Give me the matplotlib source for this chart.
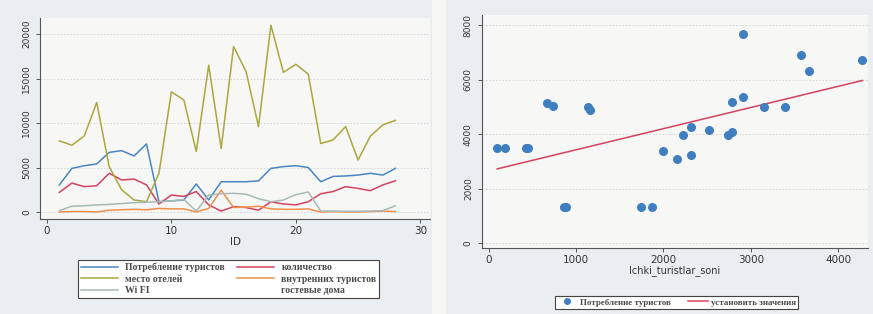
import matplotlib.pyplot as plt
from matplotlib.lines import Line2D
from matplotlib.patches import Rectangle
import numpy as np

# left chart: series by ID
ids = np.arange(1, 29)
consumption = [3050, 4900, 5200, 5400, 6700, 6900, 6300, 7650, 1150, 1250, 1350, 3150, 1350, 3400,
               3400, 3400, 3500, 4900, 5100, 5200, 5000, 3400, 4000, 4050, 4150, 4350, 4150, 4900]
domestic = [2200, 3250, 2850, 2950, 4350, 3600, 3700, 3050, 900, 1900, 1750, 2300, 800, 100,
            600, 500, 200, 1150, 900, 800, 1150, 2050, 2300, 2850, 2650, 2400, 3050, 3500]
hotels = [8000, 7500, 8550, 12300, 5100, 2500, 1350, 1150, 4350, 13500, 12600, 6800, 16500, 7150,
          18600, 15800, 9600, 21000, 15700, 16600, 15500, 7700, 8100, 9600, 5850, 8550, 9800, 10300]
guest = [0, 50, 50, 0, 200, 250, 300, 250, 400, 350, 350, 0, 400, 2450,
         500, 550, 650, 350, 300, 300, 350, 0, 50, 0, 0, 50, 100, 50]
wifi = [150, 650, 700, 800, 850, 950, 1050, 1100, 1150, 1250, 1400, 100, 1900, 2050,
        2100, 2000, 1500, 1150, 1350, 1950, 2250, 100, 100, 80, 80, 100, 150, 700]

# right chart: scatter
ichki = [95, 187, 424, 450, 668, 737, 859, 882, 1137, 1156, 1748, 1863, 1996, 2160,
         2225, 2317, 2317, 2519, 2744, 2790, 2790, 2908, 2916, 3153, 3393, 3580, 3664, 4279]
potreb = [3490, 3490, 3490, 3490, 5145, 5050, 1310, 1310, 5000, 4900, 1310, 1310, 3390, 3090,
          3970, 3230, 4260, 4140, 3980, 4070, 5170, 5350, 7680, 5000, 5000, 6920, 6330, 6720]

c_blue = '#4a86c0'
c_red = '#d3425e'
c_olive = '#aaa83e'
c_orange = '#f0904a'
c_gray = '#a9bab3'

fig = plt.figure(figsize=(8.73, 3.14), dpi=100)
fig.patch.set_facecolor('#eaeef1')
# pale gap between the two pasted graphs
fig.patches.append(Rectangle((432 / 873, 0), 14 / 873, 1, transform=fig.transFigure,
                             facecolor='#f6f6f4', edgecolor='none', zorder=0))

ax1 = fig.add_axes([0.0458, 0.3025, 0.447, 0.640])
ax2 = fig.add_axes([0.552, 0.210, 0.442, 0.742])

for ax in (ax1, ax2):
    ax.set_facecolor('#f7f7f6')
    for s in ('top', 'right'):
        ax.spines[s].set_visible(False)
    for s in ('left', 'bottom'):
        ax.spines[s].set_color('#555555')
        ax.spines[s].set_linewidth(0.8)
    ax.grid(axis='y', color='#cfd3d6', linestyle=(0, (2, 2)), linewidth=0.6)
    ax.set_axisbelow(True)
    ax.tick_params(length=3, width=0.7, color='#555555', labelcolor='#333333')
    ax.tick_params(axis='y', labelsize=6.5, labelrotation=90)
    ax.tick_params(axis='x', labelsize=7.5, pad=2)

lw = 1.1
ax1.plot(ids, consumption, color=c_blue, lw=lw)
ax1.plot(ids, domestic, color=c_red, lw=lw)
ax1.plot(ids, hotels, color=c_olive, lw=lw)
ax1.plot(ids, guest, color=c_orange, lw=lw)
ax1.plot(ids, wifi, color=c_gray, lw=lw)
ax1.set_xlim(-0.56, 30.8)
ax1.set_ylim(-790, 21800)
ax1.set_xticks([0, 10, 20, 30])
ax1.set_yticks([0, 5000, 10000, 15000, 20000])
for lbl in ax1.get_yticklabels():
    lbl.set_va('center')
ax1.set_xlabel('ID', fontsize=7.5, labelpad=1, color='#333333')

handles = [Line2D([], [], color=c_blue, lw=lw), Line2D([], [], color=c_olive, lw=lw),
           Line2D([], [], color=c_gray, lw=lw), Line2D([], [], color=c_red, lw=lw),
           Line2D([], [], color=c_orange, lw=lw), Line2D([], [], color='none', lw=lw)]
labels = ['Потребление туристов', 'место отелей', 'Wi FI',
          'количество', 'внутренних туристов', 'гостевые дома']
leg1 = fig.legend(handles, labels, ncol=2, loc='center', bbox_to_anchor=(0.2618, 0.111),
                  prop={'family': 'Liberation Serif', 'weight': 'bold', 'size': 7},
                  handlelength=3.8, labelspacing=0.25, columnspacing=1.2, borderpad=0.3,
                  fancybox=False, edgecolor='#444444', facecolor='white', framealpha=1)
leg1.get_frame().set_linewidth(0.8)
for t in leg1.get_texts():
    t.set_color('#4a4a4a')

slope, intercept = np.polyfit(ichki, potreb, 1)
xs = np.array([min(ichki), max(ichki)])
ax2.scatter(ichki, potreb, s=30, color='#3f7fc0', zorder=3)
ax2.plot(xs, intercept + slope * xs, color=c_red, lw=1.1, zorder=2)
ax2.set_xlim(-80, 4340)
ax2.set_ylim(-183, 8370)
ax2.set_xticks([0, 1000, 2000, 3000, 4000])
ax2.set_yticks([0, 2000, 4000, 6000, 8000])
for lbl in ax2.get_yticklabels():
    lbl.set_va('center')
ax2.set_xlabel('Ichki_turistlar_soni', fontsize=7, labelpad=0, color='#333333')

h2 = [Line2D([], [], marker='o', color='#3f7fc0', ls='none', markersize=4),
      Line2D([], [], color=c_red, lw=1.1)]
leg2 = fig.legend(h2, ['Потребление туристов', 'установить значения'], ncol=2, loc='center',
                  bbox_to_anchor=(0.775, 0.037),
                  prop={'family': 'Liberation Serif', 'weight': 'bold', 'size': 6.5},
                  handlelength=2.2, handletextpad=0.3, columnspacing=2.0, borderpad=0.25,
                  fancybox=False, edgecolor='#444444', facecolor='white', framealpha=1)
leg2.get_frame().set_linewidth(0.8)
for t in leg2.get_texts():
    t.set_color('#4a4a4a')

fig.savefig('out.png', dpi=100, facecolor=fig.get_facecolor())
